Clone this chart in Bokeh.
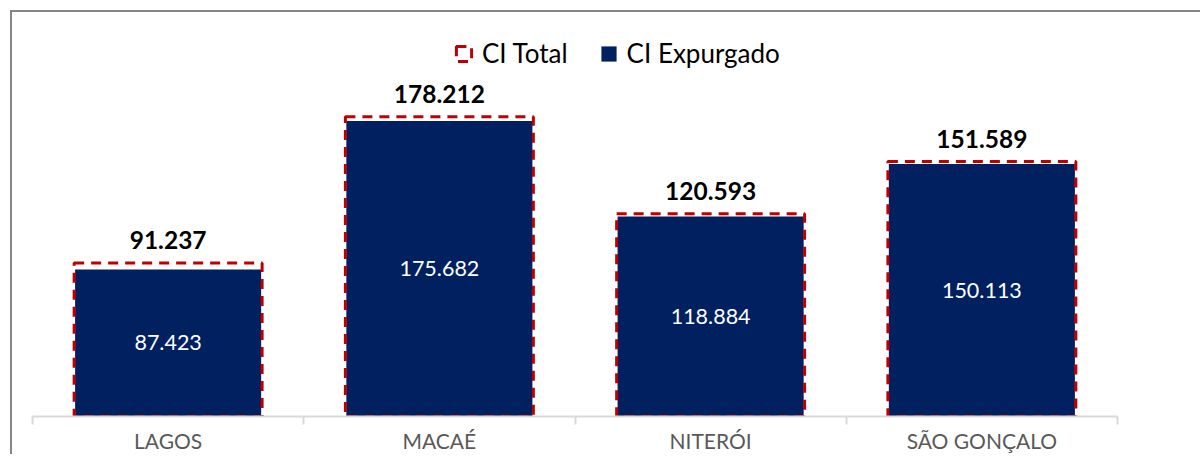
from bokeh.plotting import figure
from bokeh.models import (ColumnDataSource, Range1d, FixedTicker, Legend, LegendItem, LabelSet)
from bokeh.core.properties import value
from bokeh.embed import file_html
from bokeh.resources import INLINE

categories = ["LAGOS", "MACAÉ", "NITERÓI", "SÃO GONÇALO"]
ci_total = [91237, 178212, 120593, 151589]
ci_expurgado = [87423, 175682, 118884, 150113]

def fmt(v):
    return f"{v:,}".replace(",", ".")

xs = [i + 0.5 for i in range(len(categories))]
src = ColumnDataSource(dict(
    x=xs,
    total=ci_total,
    exp=ci_expurgado,
    half=[v / 2 for v in ci_expurgado],
    total_lbl=[fmt(v) for v in ci_total],
    exp_lbl=[fmt(v) for v in ci_expurgado],
))

FONT = "Lato"

p = figure(width=1190, height=444, output_backend="svg", toolbar_location=None,
           x_range=Range1d(0, len(categories)), y_range=Range1d(0, 235500),
           min_border_left=20, min_border_right=85, min_border_top=8, min_border_bottom=40)
# outer chart border: only top and left edges are visible in the reference
p.styles = {"margin-left": "10px", "margin-top": "10px",
            "border-left": "2px solid #868686", "border-top": "2px solid #868686"}
p.outline_line_color = None
p.xgrid.visible = False
p.ygrid.visible = False
p.yaxis.visible = False
p.background_fill_color = "white"
p.border_fill_color = "white"

exp_r = p.vbar(x="x", top="exp", width=0.686, source=src, fill_color="#002060", line_color=None)
tot_r = p.vbar(x="x", top="total", width=0.693, source=src, fill_color=None,
               line_color="#c00000", line_width=3, line_dash="10 7")

ax = p.xaxis[0]
ax.ticker = FixedTicker(ticks=xs, minor_ticks=list(range(len(categories) + 1)))
ax.major_label_overrides = {x: c for x, c in zip(xs, categories)}
ax.major_tick_line_color = None
ax.minor_tick_line_color = "#d9d9d9"
ax.minor_tick_line_width = 2
ax.minor_tick_in = 0
ax.minor_tick_out = 8
ax.axis_line_color = "#d9d9d9"
ax.axis_line_width = 2
ax.major_label_text_font = FONT
ax.major_label_text_font_size = "21px"
ax.major_label_text_color = "#595959"
ax.major_label_standoff = 3

top_labels = LabelSet(x="x", y="total", text="total_lbl", source=src, text_align="center",
                      text_baseline="middle", y_offset=23, text_font=value(FONT),
                      text_font_size="24.5px", text_font_style="bold", text_color="black")
in_labels = LabelSet(x="x", y="half", text="exp_lbl", source=src, text_align="center",
                     text_baseline="middle", text_font=value(FONT),
                     text_font_size="21.5px", text_color="white")
p.add_layout(top_labels)
p.add_layout(in_labels)

legend = Legend(items=[LegendItem(label="CI Total", renderers=[tot_r]),
                       LegendItem(label="CI Expurgado", renderers=[exp_r])],
                orientation="horizontal", location=(422, 347),
                label_text_font=FONT, label_text_font_size="26px", label_text_color="#000000",
                glyph_width=19, glyph_height=19, label_standoff=9, spacing=31,
                padding=0, margin=0, border_line_color=None, background_fill_alpha=0)
p.add_layout(legend)

open("out.html", "w").write(file_html(p, INLINE))
